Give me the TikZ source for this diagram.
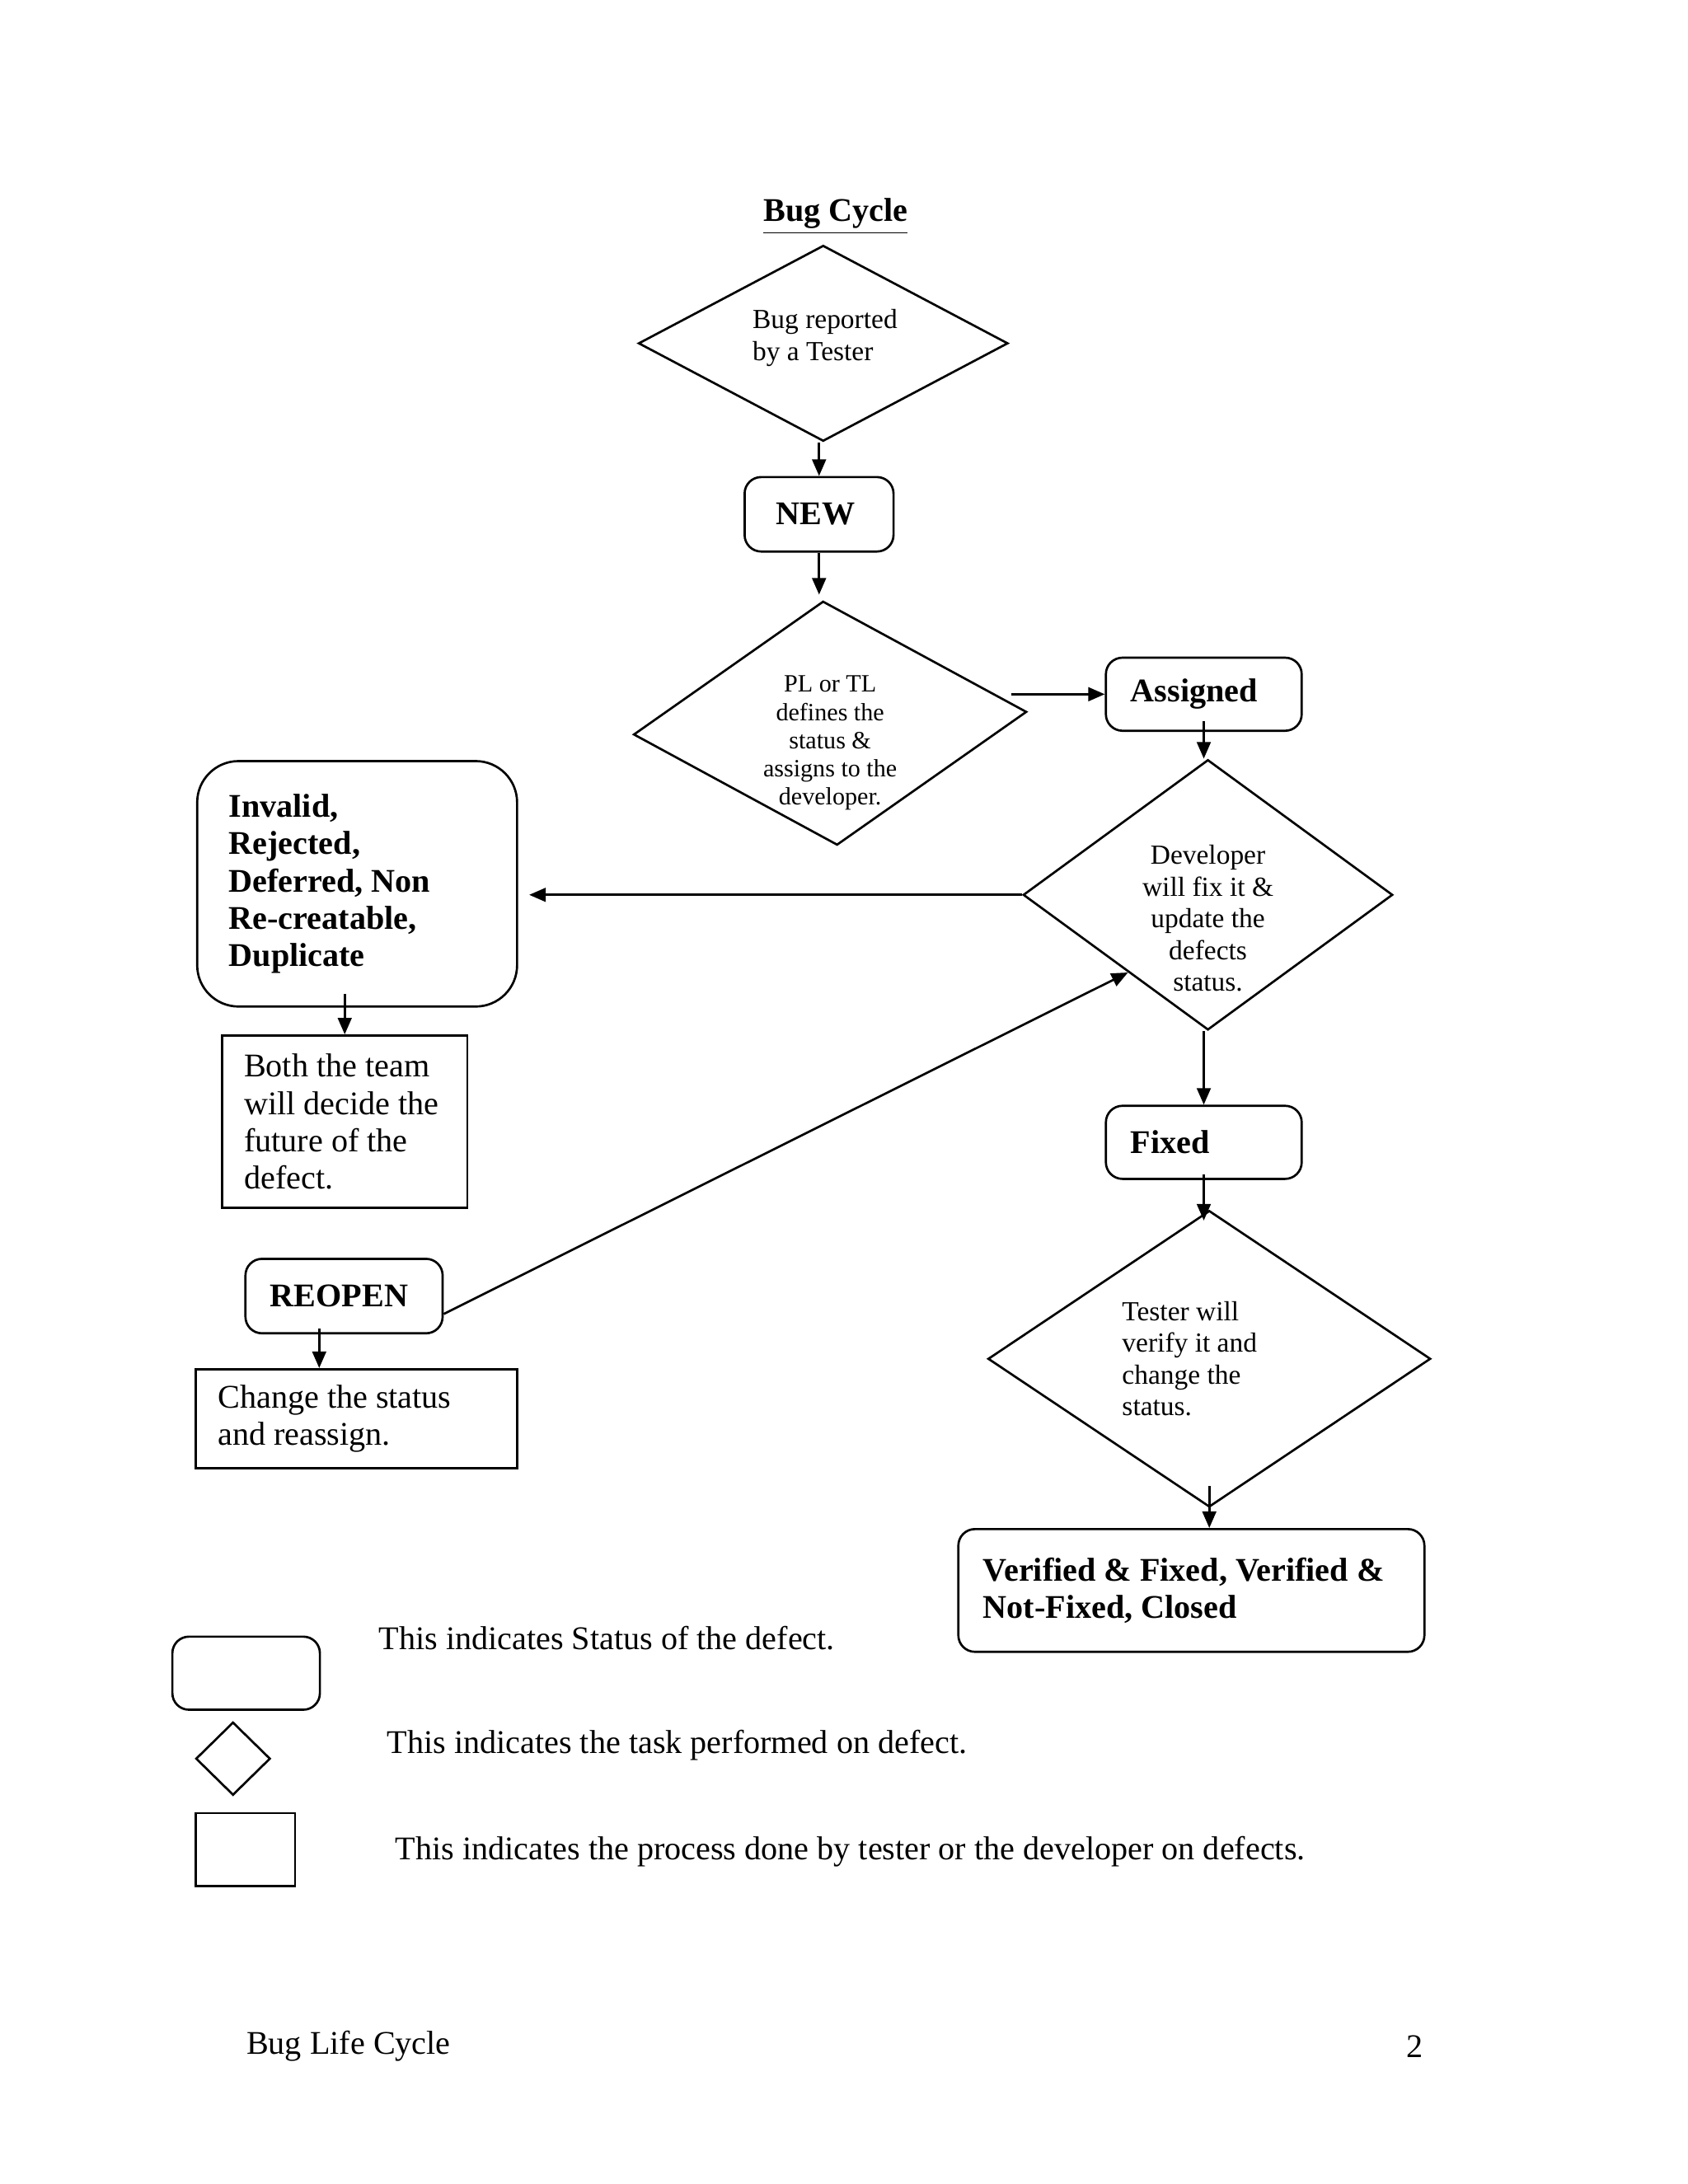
\documentclass[tikz,border=0pt]{standalone}
\usepackage{fontspec}
\setmainfont{Liberation Serif}
\usetikzlibrary{shapes.geometric, arrows.meta, positioning, calc}
\tikzset{
	>={Triangle[length=6pt,width=5pt]}, % Punta de flecha rellena
	estado/.style={draw, rounded corners=6pt, align=flush left, inner xsep=9pt, inner ysep=0pt, font=\fontsize{12}{13.5}\selectfont\bfseries}, % Estados del defecto
	proceso/.style={draw, align=flush left, inner xsep=8pt, inner ysep=0pt, font=\fontsize{12}{13.5}\selectfont}, % Procesos sobre el defecto
	tarea/.style={draw, diamond, inner sep=0pt}, % Tareas (rombos)
	textotarea/.style={inner sep=0pt, font=\fontsize{10}{11.5}\selectfont}, % Texto dentro de los rombos
	nota/.style={inner sep=0pt, anchor=west, font=\fontsize{12}{13.5}\selectfont} % Textos de la leyenda
}

\begin{document}
\begin{tikzpicture}[x=0.5pt, y=-0.5pt, line width=0.8pt]
				\useasboundingbox (0,0) rectangle (1224,1584);
				\node[font=\fontsize{12}{13.5}\selectfont\bfseries] (titulo) at (606,157) {\underline{Bug Cycle}};
				\node[tarea, minimum width=134pt, minimum height=71pt] (d1) at (597,249) {};
				\node[textotarea, align=flush left, anchor=west] (d1t) at (545,245) {Bug reported\\by a Tester};
				\node[estado, inner xsep=11.5pt, text width=31pt, minimum height=27pt] (new) at (594,373) {NEW};
				\node[tarea, rotate=3.3, minimum width=142.8pt, minimum height=88.6pt] (d2) at (602,524.5) {};
				\node[textotarea, align=flush center, font=\fontsize{9}{10.25}\selectfont] (d2t) at (602,539) {PL or TL\\defines the\\status \&\\assigns to the\\developer.};
				\node[estado, text width=53pt, minimum height=26.5pt] (assigned) at (873,503.5) {Assigned};
				\node[tarea, minimum width=134pt, minimum height=98pt] (d3) at (876,649) {};
				\node[textotarea, align=flush center] (d3t) at (876,666) {Developer\\will fix it \&\\update the\\defects\\status.};
				\node[estado, rounded corners=15pt, inner xsep=11.5pt, text width=93pt, minimum height=89pt] (invalid) at (259,641) {Invalid,\\Rejected,\\Deferred, Non\\Re-creatable,\\Duplicate};
				\node[proceso, text width=73pt, minimum height=62.5pt] (both) at (250,813.5) {Both the team\\will decide the\\future of the\\defect.};
				\node[estado, text width=53.5pt, minimum height=27pt] (reopen) at (249.5,940) {REOPEN};
				\node[proceso, text width=100.5pt, minimum height=36pt] (change) at (258.5,1029) {Change the status\\and reassign.};
				\node[estado, text width=53pt, minimum height=26.5pt] (fixed) at (873,828.5) {Fixed};
				\node[tarea, minimum width=160.5pt, minimum height=107.5pt] (d4) at (877,985.5) {};
				\node[textotarea, align=flush left, anchor=west] (d4t) at (813,985.5) {Tester will\\verify it and\\change the\\status.};
				\node[estado, text width=151pt, minimum height=44.5pt] (verified) at (864,1153.5) {Verified \& Fixed, Verified \&\\Not-Fixed, Closed};
				\node[estado, minimum width=53.5pt, minimum height=26.5pt] (lestado) at (178.5,1213.5) {};
				\node[tarea, minimum width=27pt, minimum height=26.5pt] (ltarea) at (169,1275.5) {};
				\node[proceso, minimum width=36pt, minimum height=26.5pt] (lproceso) at (178,1341.5) {};
				\node[nota] (nestado) at (274,1188) {This indicates Status of the defect.};
				\node[nota] (ntarea) at (280,1266) {This indicates the task performed on defect.};
				\node[nota] (nproceso) at (286,1343) {This indicates the process done by tester or the developer on defects.};
				\node[nota] (pie) at (178,1484) {Bug Life Cycle};
				\node[nota, anchor=east] (pagina) at (1033,1484) {2};
				\coordinate (rx) at ([xshift=-9pt]reopen.south);
				\coordinate (vx) at ([yshift=8pt]d4.south);
				\coordinate (dx) at ($(d3.west)!0.57!(d3.south)$);
				\path[->]	(new.north |- d1.south) edge (new.north)
						(new.south) edge[shorten >=2pt] (new.south |- d2.north)
						([xshift=-34pt]assigned.west) edge (assigned.west)
						(assigned.south) edge[shorten <=-4pt] (assigned.south |- d3.north)
						(d3.west) edge[shorten >=4pt] (d3.west -| invalid.east)
						(both.north |- invalid.south) edge[shorten <=-5pt] (both.north)
						([yshift=-6.5pt]reopen.east) edge (dx)
						(rx) edge[shorten <=-2pt] (rx |- change.north)
						(fixed.north |- d3.south) edge (fixed.north)
						(fixed.south) edge[shorten <=-2pt, shorten >=-4pt] (fixed.south |- d4.north)
						(vx) edge (vx |- verified.north);
			\end{tikzpicture}
\end{document}
